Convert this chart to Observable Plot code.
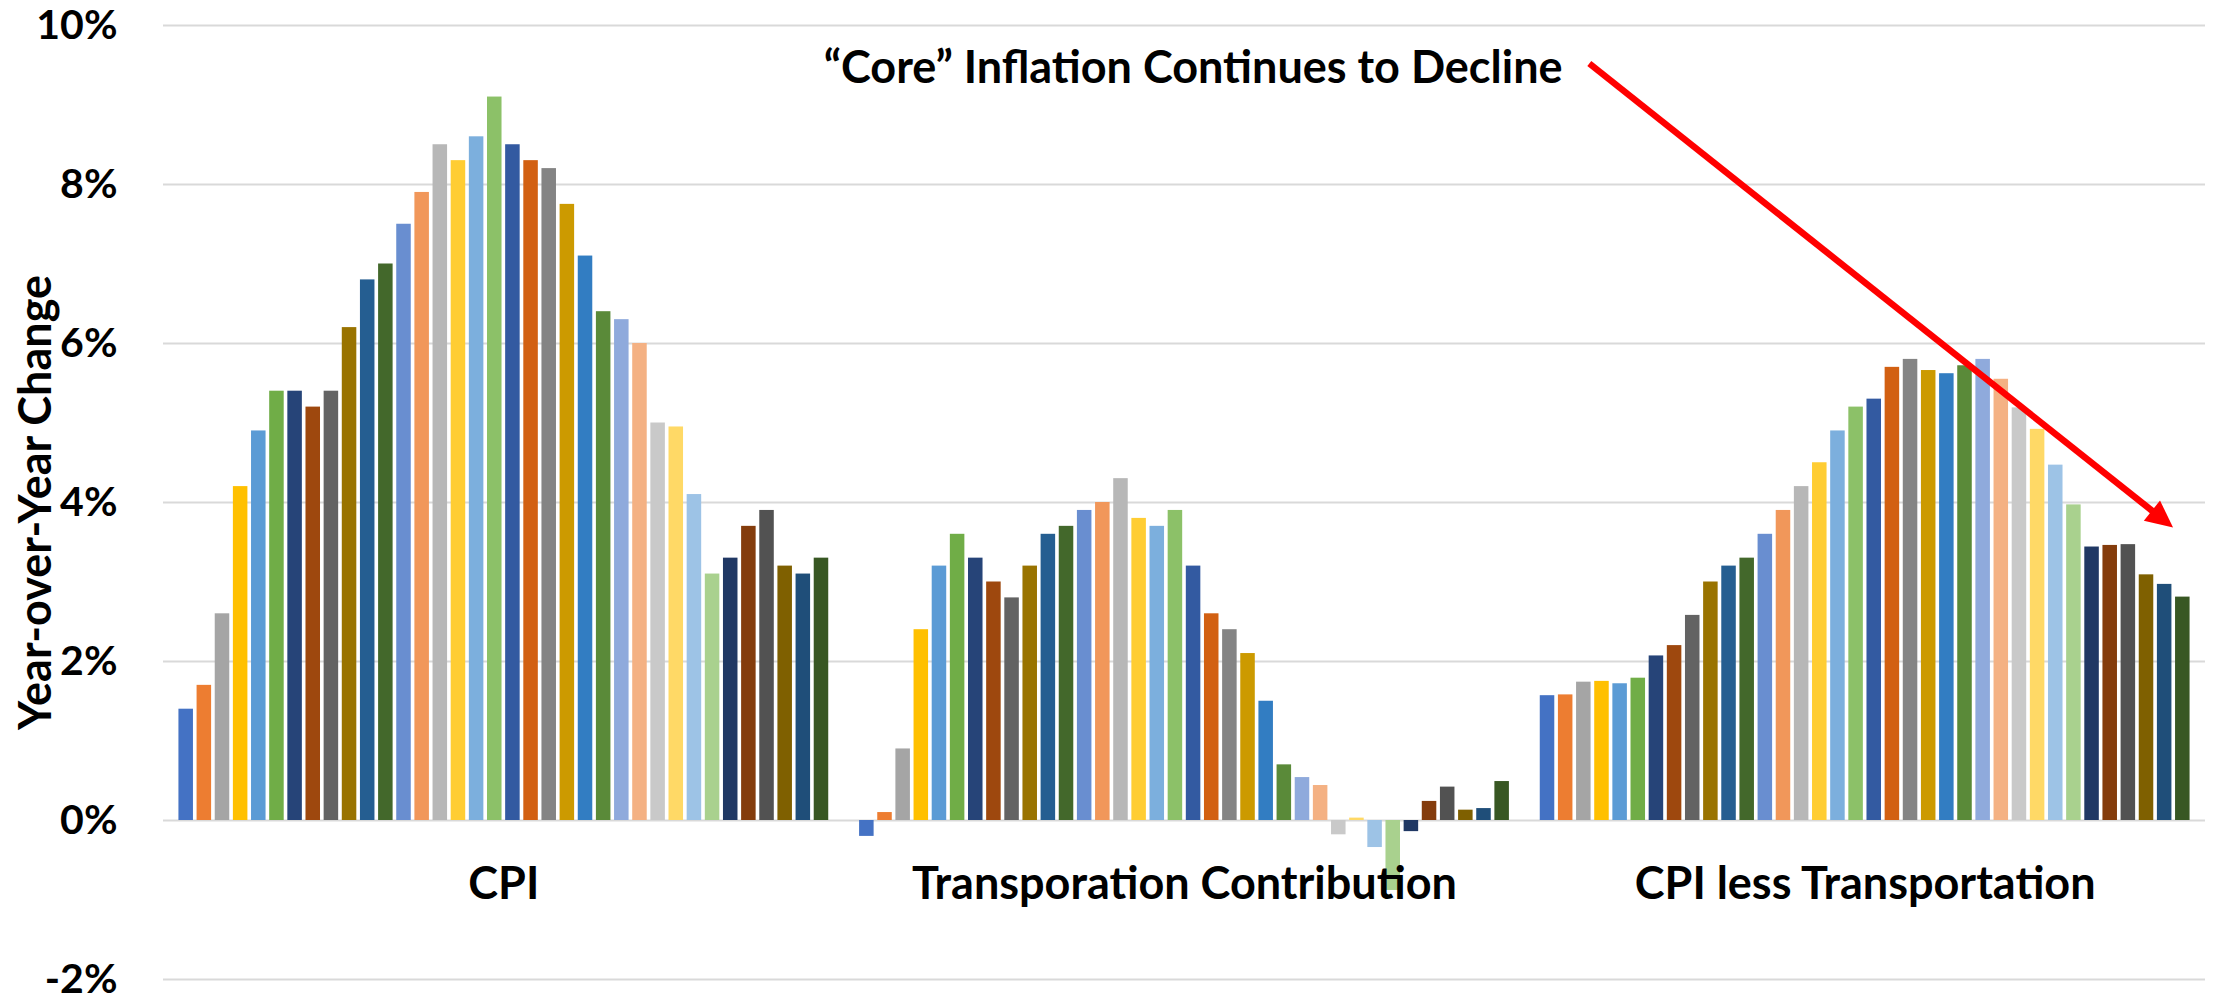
<!DOCTYPE html>
<html>
<head>
<meta charset="utf-8">
<script src="https://cdn.jsdelivr.net/npm/d3@7"></script>
<script src="https://cdn.jsdelivr.net/npm/@observablehq/plot@0.6"></script>
<style>
  html, body { margin: 0; padding: 0; background: #fff; }
  #chart { width: 2219px; height: 999px; }
</style>
</head>
<body>
<div id="chart"></div>
<script>
// ---- data ----
const categories = ["CPI", "Transporation Contribution", "CPI less Transportation"];
const months = [
  "Jan-21","Feb-21","Mar-21","Apr-21","May-21","Jun-21","Jul-21","Aug-21","Sep-21","Oct-21","Nov-21","Dec-21",
  "Jan-22","Feb-22","Mar-22","Apr-22","May-22","Jun-22","Jul-22","Aug-22","Sep-22","Oct-22","Nov-22","Dec-22",
  "Jan-23","Feb-23","Mar-23","Apr-23","May-23","Jun-23","Jul-23","Aug-23","Sep-23","Oct-23","Nov-23","Dec-23"
];
const cpi = [1.4,1.7,2.6,4.2,4.9,5.4,5.4,5.2,5.4,6.2,6.8,7.0,7.5,7.9,8.5,8.3,8.6,9.1,8.5,8.3,8.2,7.75,7.1,6.4,6.3,6.0,5.0,4.95,4.1,3.1,3.3,3.7,3.9,3.2,3.1,3.3];
const transportation = [-0.2,0.1,0.9,2.4,3.2,3.6,3.3,3.0,2.8,3.2,3.6,3.7,3.9,4.0,4.3,3.8,3.7,3.9,3.2,2.6,2.4,2.1,1.5,0.7,0.54,0.44,-0.18,0.03,-0.34,-0.88,-0.14,0.24,0.42,0.13,0.15,0.49];
const cpiLessTransportation = [1.57,1.58,1.74,1.75,1.72,1.79,2.07,2.2,2.58,3.0,3.2,3.3,3.6,3.9,4.2,4.5,4.9,5.2,5.3,5.7,5.8,5.66,5.62,5.72,5.8,5.55,5.19,4.92,4.47,3.97,3.44,3.46,3.47,3.09,2.97,2.81];
const seriesColors = [
  "#4472C4","#ED7D31","#A5A5A5","#FFC000","#5B9BD5","#70AD47",
  "#264478","#9E480E","#636363","#997300","#255E91","#43682B",
  "#698ED0","#F1975A","#B7B7B7","#FFCD33","#7CAFDD","#8CC168",
  "#335AA1","#D26012","#848484","#CC9A00","#327DC2","#5A8A39",
  "#8FAADC","#F4B183","#C9C9C9","#FFD966","#9DC3E6","#A9D18E",
  "#203864","#843C0C","#525252","#7F6000","#1F4E79","#385723"
];
const yTicks = [-2, 0, 2, 4, 6, 8, 10];
const yTitle = ["Year-over-Year Change"];
const annotation = ["\u201CCore\u201D Inflation Continues to Decline"];
// arrow annotation anchors, in data units (bar slot, percent)
const arrowFrom = [77.33, 9.515];
const arrowTo = [109.49, 3.68];

// ---- layout constants ----
const GROUP_STEP = 37.5;   // bar slots per category group (36 bars + gap)
const BAR_HALF = 0.4;      // half bar width in slot units
const LABEL_Y = -0.8;      // category label position (percent)
const ANNOT_Y = 9.46;
const ANNOT_X = 75.83;
const FONT = "Lato, 'Open Sans', sans-serif";
const FS = 45;
const TICK_FS = 41;

const seriesByCat = [cpi, transportation, cpiLessTransportation];
const table = [];
categories.forEach((cat, g) => {
  seriesByCat[g].forEach((v, i) => {
    table.push({category: cat, month: months[i], value: v, pos: g * GROUP_STEP + i, color: seriesColors[i]});
  });
});
const catLabels = categories.map((c, g) => ({label: c, pos: g * GROUP_STEP + (months.length - 1) / 2}));

function arrowMark(index, scales) {
  const x1 = scales.x(arrowFrom[0]), y1 = scales.y(arrowFrom[1]);
  const x2 = scales.x(arrowTo[0]), y2 = scales.y(arrowTo[1]);
  const ang = Math.atan2(y2 - y1, x2 - x1);
  const L = 27, W = 13;
  const bx = x2 - L * Math.cos(ang), by = y2 - L * Math.sin(ang);
  const g = d3.create("svg:g");
  g.append("line")
    .attr("x1", x1).attr("y1", y1).attr("x2", bx + 2 * Math.cos(ang)).attr("y2", by + 2 * Math.sin(ang))
    .attr("stroke", "#FF0000").attr("stroke-width", 6.5);
  g.append("path")
    .attr("d", `M${x2},${y2}L${bx + W * Math.sin(ang)},${by - W * Math.cos(ang)}L${bx - W * Math.sin(ang)},${by + W * Math.cos(ang)}Z`)
    .attr("fill", "#FF0000");
  return g.node();
}

const chart = Plot.plot({
  width: 2219,
  height: 999,
  marginTop: 25,
  marginBottom: 20,
  marginLeft: 163,
  marginRight: 14,
  style: {fontFamily: FONT, background: "#fff", color: "#000"},
  x: {domain: [-1.25, 111.25], axis: null},
  y: {domain: [-2, 10], axis: null},
  color: {type: "identity"},
  marks: [
    Plot.gridY(yTicks, {stroke: "#D9D9D9", strokeOpacity: 1, strokeWidth: 2}),
    Plot.axisY({ticks: yTicks, tickSize: 0, tickPadding: 46, tickFormat: d => `${d}%`,
      fontSize: TICK_FS, fontWeight: "bold", fill: "#000", label: null}),
    Plot.rect(table, {
      x1: d => d.pos - BAR_HALF,
      x2: d => d.pos + BAR_HALF,
      y1: () => 0,
      y2: "value",
      fill: "color"
    }),
    Plot.text(catLabels, {x: "pos", y: () => LABEL_Y, text: "label", fontSize: FS, fontWeight: "bold", fill: "#000"}),
    Plot.text(yTitle, {frameAnchor: "left", textAnchor: "middle", rotate: -90, dx: -127, text: d => d,
      fontSize: FS, fontWeight: "bold", fill: "#000"}),
    Plot.text(annotation, {x: () => ANNOT_X, y: () => ANNOT_Y, text: d => d, textAnchor: "end",
      fontSize: FS, fontWeight: "bold", fill: "#000"}),
    arrowMark
  ]
});
document.getElementById("chart").appendChild(chart);
</script>
</body>
</html>
